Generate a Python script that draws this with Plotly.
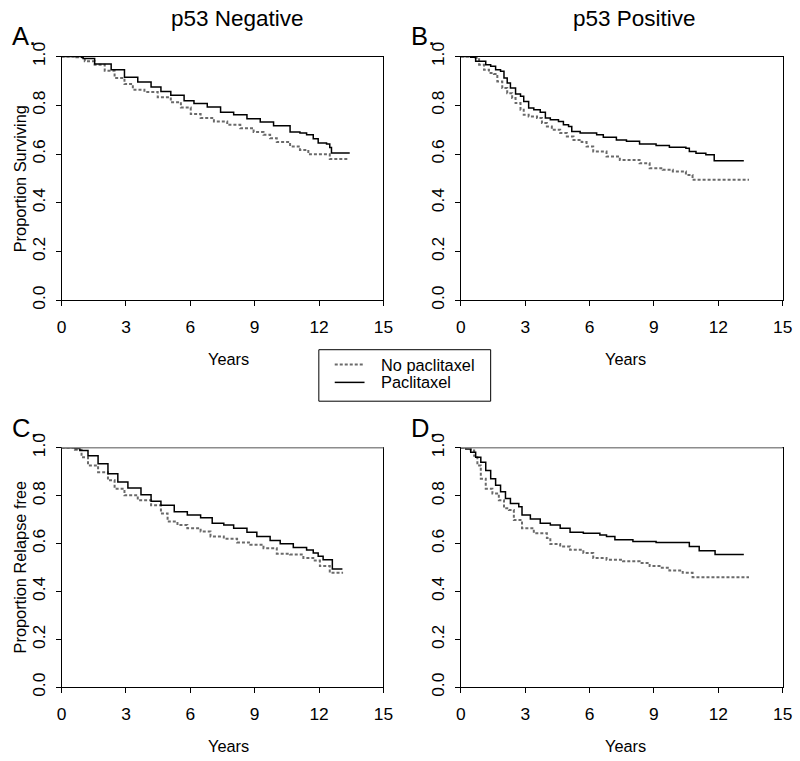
import plotly.graph_objects as go

# ---- Data: step times (years) and proportions ----
# Panel A: p53 Negative, overall survival
a_pac_t = [0, 0.93, 1.0, 1.54, 2.31, 2.93, 3.55, 4.17, 4.63, 5.09, 5.71, 6.17, 6.79, 7.41, 8.02, 8.64, 9.26, 9.88, 10.65, 11.11, 11.42, 11.73, 11.96, 12.35, 12.5, 12.58, 13.43]
a_pac_s = [1.0, 0.997, 0.992, 0.970, 0.946, 0.915, 0.896, 0.875, 0.857, 0.841, 0.819, 0.807, 0.793, 0.772, 0.761, 0.745, 0.731, 0.716, 0.690, 0.686, 0.679, 0.663, 0.645, 0.641, 0.627, 0.604, 0.604]
a_nop_t = [0, 0.69, 1.08, 1.54, 2.01, 2.47, 2.93, 3.32, 3.86, 4.48, 5.09, 5.56, 6.02, 6.48, 7.10, 7.72, 8.33, 8.95, 9.41, 9.72, 10.03, 10.65, 11.11, 11.50, 12.5, 13.35]
a_nop_s = [1.0, 0.997, 0.981, 0.967, 0.942, 0.912, 0.887, 0.864, 0.855, 0.833, 0.813, 0.791, 0.764, 0.748, 0.734, 0.720, 0.706, 0.690, 0.679, 0.665, 0.649, 0.631, 0.617, 0.599, 0.580, 0.580]

# Panel B: p53 Positive, overall survival
b_pac_t = [0, 0.46, 0.69, 1.16, 1.39, 1.62, 1.85, 2.01, 2.16, 2.31, 2.55, 2.78, 2.93, 3.16, 3.40, 3.70, 3.94, 4.17, 4.55, 4.78, 5.02, 5.17, 5.56, 6.33, 6.64, 7.25, 7.72, 8.33, 9.10, 9.72, 10.49, 10.65, 10.96, 11.42, 11.81, 13.19]
b_pac_s = [1.0, 0.997, 0.981, 0.967, 0.960, 0.946, 0.940, 0.912, 0.892, 0.871, 0.846, 0.837, 0.816, 0.789, 0.782, 0.772, 0.748, 0.741, 0.734, 0.720, 0.713, 0.693, 0.686, 0.679, 0.669, 0.658, 0.652, 0.641, 0.635, 0.628, 0.624, 0.610, 0.603, 0.597, 0.572, 0.572]
b_nop_t = [0, 0.62, 0.85, 1.08, 1.31, 1.54, 1.70, 1.93, 2.16, 2.39, 2.55, 2.78, 2.93, 3.16, 3.55, 3.78, 4.01, 4.24, 4.63, 4.94, 5.25, 5.63, 5.86, 6.17, 6.79, 7.41, 8.33, 8.80, 9.41, 9.88, 10.49, 10.80, 13.43]
b_nop_s = [1.0, 0.995, 0.967, 0.946, 0.933, 0.929, 0.898, 0.871, 0.850, 0.830, 0.809, 0.782, 0.761, 0.754, 0.748, 0.727, 0.713, 0.700, 0.686, 0.672, 0.658, 0.649, 0.631, 0.610, 0.590, 0.576, 0.562, 0.542, 0.535, 0.528, 0.514, 0.494, 0.494]

# Panel C: p53 Negative, relapse free
c_pac_t = [0, 0.62, 0.85, 1.23, 1.70, 2.16, 2.62, 3.09, 3.70, 4.17, 4.63, 5.25, 5.86, 6.48, 7.02, 7.56, 8.02, 8.64, 9.10, 9.72, 10.19, 10.80, 11.42, 11.73, 11.96, 12.19, 12.62, 13.09]
c_pac_s = [1.0, 0.997, 0.988, 0.967, 0.933, 0.891, 0.857, 0.832, 0.804, 0.777, 0.760, 0.733, 0.719, 0.708, 0.685, 0.678, 0.664, 0.647, 0.630, 0.613, 0.599, 0.584, 0.573, 0.561, 0.547, 0.533, 0.494, 0.494]
c_nop_t = [0, 0.62, 0.93, 1.23, 1.70, 2.16, 2.47, 2.93, 3.55, 4.17, 4.63, 4.94, 5.40, 5.86, 6.48, 6.94, 7.56, 8.18, 8.80, 9.41, 10.03, 10.65, 11.27, 11.73, 12.04, 12.5, 13.12]
c_nop_s = [1.0, 0.992, 0.960, 0.926, 0.898, 0.864, 0.829, 0.802, 0.781, 0.760, 0.726, 0.692, 0.678, 0.664, 0.650, 0.630, 0.620, 0.605, 0.595, 0.581, 0.558, 0.554, 0.540, 0.529, 0.506, 0.478, 0.478]

# Panel D: p53 Positive, relapse free
d_pac_t = [0, 0.23, 0.46, 0.69, 0.93, 1.16, 1.39, 1.62, 1.85, 2.08, 2.31, 2.70, 2.85, 3.24, 3.70, 4.17, 4.63, 5.09, 5.71, 6.48, 6.79, 7.18, 8.02, 9.10, 10.65, 11.11, 11.85, 13.19]
d_pac_s = [1.0, 0.995, 0.981, 0.960, 0.939, 0.905, 0.871, 0.843, 0.816, 0.788, 0.767, 0.754, 0.719, 0.703, 0.685, 0.678, 0.664, 0.647, 0.643, 0.636, 0.630, 0.616, 0.609, 0.605, 0.588, 0.570, 0.554, 0.554]
d_nop_t = [0, 0.46, 0.62, 0.77, 0.93, 1.16, 1.47, 1.77, 2.01, 2.24, 2.47, 2.85, 3.40, 4.01, 4.17, 4.63, 5.09, 5.71, 6.17, 6.79, 7.56, 8.33, 8.80, 9.26, 9.72, 10.34, 10.80, 13.43]
d_nop_s = [1.0, 0.988, 0.967, 0.926, 0.871, 0.829, 0.809, 0.781, 0.747, 0.740, 0.698, 0.664, 0.643, 0.623, 0.598, 0.588, 0.574, 0.561, 0.540, 0.533, 0.526, 0.519, 0.506, 0.499, 0.488, 0.478, 0.460, 0.460]

x_ticks = [0, 3, 6, 9, 12, 15]
y_ticks = [0.0, 0.2, 0.4, 0.6, 0.8, 1.0]
panel_titles = ["p53 Negative", "p53 Positive"]
panel_letters = ["A.", "B.", "C.", "D."]
y_titles = ["Proportion Surviving", "Proportion Relapse free"]
series_names = ["No paclitaxel", "Paclitaxel"]

# ---- Figure ----
W, H = 800, 761
FONT = "Liberation Sans, Arial, sans-serif"
NOP_LINE = dict(color="#6a6a6a", width=2, dash="3px,2px")
PAC_LINE = dict(color="black", width=1.5)

# placement helpers: target pixel position in the photographed page -> paper fraction
SX, OX, SY, OY = 0.988, 3.0, 0.978, 9.0
def px(x):
    return ((x - OX) / SX) / W
def py(y):
    return 1 - ((y - OY) / SY) / H
FS = 1 / SY  # font compensation

fig = go.Figure()
panels = [
    (a_nop_t, a_nop_s, a_pac_t, a_pac_s),
    (b_nop_t, b_nop_s, b_pac_t, b_pac_s),
    (c_nop_t, c_nop_s, c_pac_t, c_pac_s),
    (d_nop_t, d_nop_s, d_pac_t, d_pac_s),
]
# target pixel boxes (left, right, top, bottom)
boxes = [(60, 384, 51, 297), (462, 786, 51, 297), (60, 384, 446, 688), (462, 786, 446, 688)]

for i, (nt, ns, pt, ps) in enumerate(panels):
    k = "" if i == 0 else str(i + 1)
    fig.add_trace(go.Scatter(x=nt, y=ns, mode="lines", line_shape="hv", line=NOP_LINE,
                             name=series_names[0], showlegend=False,
                             xaxis="x" + k, yaxis="y" + k))
    fig.add_trace(go.Scatter(x=pt, y=ps, mode="lines", line_shape="hv", line=PAC_LINE,
                             name=series_names[1], showlegend=False,
                             xaxis="x" + k, yaxis="y" + k))

axis_common = dict(showgrid=False, zeroline=False, showline=True, linecolor="black",
                   linewidth=1, mirror=True, ticks="outside", ticklen=5, tickcolor="black",
                   tickfont=dict(family=FONT, size=17 * FS, color="black"))

layout = dict(width=W, height=H, margin=dict(l=0, r=0, t=0, b=0, pad=0),
              paper_bgcolor="white", plot_bgcolor="white", showlegend=False,
              font=dict(family=FONT, color="black"))

for i, (l, r, t, b) in enumerate(boxes):
    k = "" if i == 0 else str(i + 1)
    layout["xaxis" + k] = dict(axis_common, domain=[px(l), px(r)], range=[0, 15],
                               tickvals=x_ticks, anchor="y" + k, ticklabelstandoff=6)
    layout["yaxis" + k] = dict(axis_common, domain=[py(b), py(t)], range=[0, 1],
                               tickvals=y_ticks, tickformat=".1f", tickangle=-90,
                               anchor="x" + k, ticklabelstandoff=4)

ann = []
for j, cx in enumerate([237, 637]):
    ann.append(dict(text=panel_titles[j], x=px(cx), y=py(13), xref="paper", yref="paper",
                    showarrow=False, xanchor="center", yanchor="middle",
                    font=dict(family=FONT, size=22 * FS, color="black")))
for i, (lx, ly) in enumerate([(8, 30), (410, 30), (8, 426), (410, 426)]):
    ann.append(dict(text=panel_letters[i], x=px(lx), y=py(ly), xref="paper", yref="paper",
                    showarrow=False, xanchor="left", yanchor="middle",
                    font=dict(family=FONT, size=25 * FS, color="black")))
for (cx, cy) in [(228, 356), (628, 356), (228, 747), (628, 747)]:
    ann.append(dict(text="Years", x=px(cx), y=py(cy), xref="paper", yref="paper",
                    showarrow=False, xanchor="center", yanchor="middle",
                    font=dict(family=FONT, size=16 * FS, color="black")))
for j, cy in enumerate([174, 566]):
    ann.append(dict(text=y_titles[j], x=px(18), y=py(cy), xref="paper", yref="paper",
                    showarrow=False, xanchor="center", yanchor="middle", textangle=-90,
                    font=dict(family=FONT, size=16 * FS, color="black")))

# legend (drawn as a boxed key)
LEG = dict(left=319, right=492, top=347, bottom=399, x0=335, x1=365, tx=380, rows=[362, 380])
shapes = [dict(type="rect", xref="paper", yref="paper",
               x0=px(LEG["left"]), x1=px(LEG["right"]),
               y0=py(LEG["bottom"]), y1=py(LEG["top"]),
               line=dict(color="black", width=1), fillcolor="white")]
for name, style, ry in zip(series_names, [NOP_LINE, PAC_LINE], LEG["rows"]):
    shapes.append(dict(type="line", xref="paper", yref="paper",
                       x0=px(LEG["x0"]), x1=px(LEG["x1"]), y0=py(ry), y1=py(ry),
                       line=style))
    ann.append(dict(text=name, x=px(LEG["tx"]), y=py(ry), xref="paper", yref="paper",
                    showarrow=False, xanchor="left", yanchor="middle",
                    font=dict(family=FONT, size=16 * FS, color="black")))

# the upper frame edge of the relapse-free panels is greyer in the original
for k in ["3", "4"]:
    shapes.append(dict(type="line", xref="x" + k + " domain", yref="y" + k + " domain",
                       x0=0, x1=1, y0=1, y1=1, line=dict(color="#8c8c8c", width=1.5)))

layout["annotations"] = ann
layout["shapes"] = shapes

fig.update_layout(**layout)
fig.write_html("out.html", config={"displayModeBar": False},
               post_script=("document.body.style.margin='0';document.body.style.padding='0';"))
